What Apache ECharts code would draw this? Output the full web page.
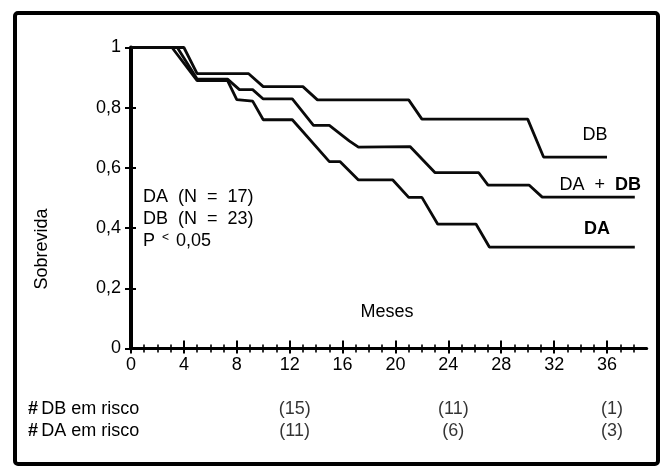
<!DOCTYPE html>
<html><head><meta charset="utf-8">
<script src="https://cdn.jsdelivr.net/npm/echarts@6/dist/echarts.min.js"></script>
<style>html,body{margin:0;padding:0;background:#fff}#c{width:663px;height:467px}</style>
</head><body><div id="c"></div>
<script>
// ---- data ----
// Kaplan-Meier curves: [month, survival]
const curveDB = [[0,1],[4,1],[5,0.913],[8.9,0.913],[10,0.870],[13,0.870],[14.1,0.826],[21,0.826],[22,0.762],[30,0.762],[31.2,0.636],[36,0.636]];
const curveDADB = [[0,1],[3.5,1],[5,0.895],[7.3,0.895],[8.2,0.860],[9.2,0.860],[10,0.829],[12.2,0.829],[13.8,0.741],[15,0.741],[16.5,0.690],[17.2,0.669],[21.1,0.671],[23,0.584],[26.3,0.584],[27,0.543],[30.1,0.543],[31.1,0.503],[38.1,0.503]];
const curveDA = [[0,1],[3.1,1],[5,0.890],[7.3,0.890],[8,0.827],[9.2,0.822],[10,0.760],[12.2,0.760],[15,0.621],[15.8,0.621],[17.2,0.560],[19.8,0.560],[21,0.502],[22,0.502],[23.2,0.413],[26.1,0.413],[27.1,0.337],[38.1,0.337]];
// numbers at risk
const riskMonths = [12, 24, 36];
const riskDB = [15, 11, 1];
const riskDA = [11, 6, 3];
// tick labels
const xMajorTicks = [0,4,8,12,16,20,24,28,32,36];
const xMinorTicks = [];
for (let m = 0; m <= 38; m++) xMinorTicks.push(m);
const yTicks = [0,0.2,0.4,0.6,0.8,1];

const FONT = '"Liberation Sans", Arial, Helvetica, sans-serif';
const chart = echarts.init(document.getElementById('c'), null, {renderer:'canvas'});

const xBase = {type:'value', min:0, max:39, position:'bottom', splitLine:{show:false}, axisLabel:{show:false}, axisLine:{show:false}};
const yBase = {type:'value', min:0, max:1, interval:0.2, position:'left', splitLine:{show:false}, axisLabel:{show:false}, axisLine:{show:false}};

function yFmt(v){ if (Math.abs(v) < 1e-9) return '0'; if (Math.abs(v-1) < 1e-9) return '1'; return v.toFixed(1).replace('.', ','); }

const lineStyle = {color:'#0a0a0a', width:2.8};
function km(name, data){
  return {name, type:'line', data, showSymbol:false, symbol:'none', lineStyle, smooth:false, xAxisIndex:0, yAxisIndex:0, z:3};
}
function risk(vals, y){
  return {type:'scatter', xAxisIndex:0, yAxisIndex:0, clip:false, symbolSize:1,
    itemStyle:{color:'rgba(0,0,0,0)'},
    data: riskMonths.map((m,i)=>[m, y, vals[i]]),
    label:{show:true, position:'inside', offset:[5,0], color:'#000', fontSize:18, fontFamily:FONT,
      formatter:p=>'(' + p.value[2] + ')'}};
}

chart.setOption({
  animation:false,
  backgroundColor:'#fff',
  grid:{left:131, top:47.5, right:16.3, bottom:118.5, containLabel:false},
  xAxis:[
    Object.assign({}, xBase, {axisLine:{show:true, lineStyle:{color:'#000', width:3}},
      axisLabel:{show:true, customValues:xMajorTicks, color:'#000', fontSize:18, fontFamily:FONT, margin:8},
      axisTick:{show:true, customValues:xMajorTicks, inside:false, length:5, lineStyle:{color:'#000', width:2}}}),
    Object.assign({}, xBase, {axisTick:{show:true, customValues:xMajorTicks, inside:true, length:8, lineStyle:{color:'#000', width:2}}}),
    Object.assign({}, xBase, {axisTick:{show:true, customValues:xMinorTicks, inside:false, length:4, lineStyle:{color:'#000', width:1.6}}}),
    Object.assign({}, xBase, {axisTick:{show:true, customValues:xMinorTicks, inside:true, length:4, lineStyle:{color:'#000', width:1.6}}})
  ],
  yAxis:[
    Object.assign({}, yBase, {axisLine:{show:true, lineStyle:{color:'#000', width:4}},
      axisLabel:{show:true, formatter:yFmt, color:'#000', fontSize:18, fontFamily:FONT, margin:10},
      axisTick:{show:true, inside:false, length:6, lineStyle:{color:'#000', width:2}}}),
    Object.assign({}, yBase, {axisTick:{show:true, inside:true, length:5, lineStyle:{color:'#000', width:2}}})
  ],
  series:[
    km('DB', curveDB),
    km('DA + DB', curveDADB),
    km('DA', curveDA),
    risk(riskDB, -0.2),
    risk(riskDA, -0.274)
  ],
  graphic:[
    {type:'rect', shape:{x:15, y:13, width:643, height:451, r:3}, style:{fill:'none', stroke:'#000', lineWidth:4}, z:10},
    {type:'text', x:42, y:249, rotation:Math.PI/2, style:{text:'Sobrevida', font:'18px ' + FONT, fill:'#000', align:'center', verticalAlign:'middle'}},
    {type:'text', x:387, y:312, style:{text:'Meses', font:'18px ' + FONT, fill:'#000', align:'center', verticalAlign:'middle'}},
    {type:'text', x:143, y:197, style:{text:'DA  (N  =  17)', font:'18px ' + FONT, fill:'#000', verticalAlign:'middle'}},
    {type:'text', x:143, y:219, style:{text:'DB  (N  =  23)', font:'18px ' + FONT, fill:'#000', verticalAlign:'middle'}},
    {type:'text', x:143, y:241, style:{text:'{a|P }{b|<}{a| 0,05}', fill:'#000', verticalAlign:'middle',
      rich:{a:{font:'18px ' + FONT, fill:'#000'}, b:{font:'12px ' + FONT, fill:'#000', padding:[0,2,6,2]}}}},
    {type:'text', x:595, y:135, style:{text:'DB', font:'18px ' + FONT, fill:'#000', align:'center', verticalAlign:'middle'}},
    {type:'text', x:641, y:185, style:{text:'{a|DA  +  }{b|DB}', align:'right', verticalAlign:'middle',
      rich:{a:{font:'18px ' + FONT, fill:'#000'}, b:{font:'bold 18px ' + FONT, fill:'#000'}}}},
    {type:'text', x:597, y:229, style:{text:'DA', font:'bold 18px ' + FONT, fill:'#000', align:'center', verticalAlign:'middle'}},
    {type:'text', x:28, y:409, style:{text:'{b|#} {a|DB em risco}', verticalAlign:'middle',
      rich:{a:{font:'18px ' + FONT, fill:'#000'}, b:{font:'bold 18px ' + FONT, fill:'#000'}}}},
    {type:'text', x:28, y:431, style:{text:'{b|#} {a|DA em risco}', verticalAlign:'middle',
      rich:{a:{font:'18px ' + FONT, fill:'#000'}, b:{font:'bold 18px ' + FONT, fill:'#000'}}}}
  ]
});
</script>
</body></html>
